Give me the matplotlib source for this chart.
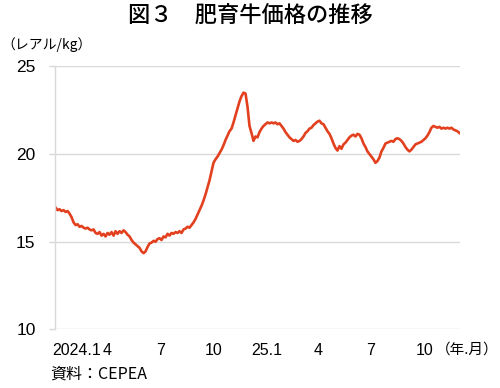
import matplotlib
matplotlib.use("Agg")
import matplotlib.pyplot as plt
import matplotlib.transforms as mtransforms
import pandas as pd

plt.rcParams['font.family'] = ['Liberation Sans', 'Noto Sans CJK JP', 'DejaVu Sans']
cjk = ['Noto Sans CJK JP', 'DejaVu Sans']
latin_first = ['Liberation Sans', 'Noto Sans CJK JP', 'DejaVu Sans']

title = "図３　肥育牛価格の推移"
unit_label = "（レアル/kg）"
xunit_label = "（年.月）"
source = "資料：CEPEA"

start_date = "2024-01-02"
end_date = "2025-12-01"

prices = [
    16.95, 16.8, 16.85, 16.75, 16.8, 16.7, 16.75, 16.6, 16.4, 16.1,
    15.95, 16.0, 15.85, 15.9, 15.8, 15.75, 15.8, 15.7, 15.65, 15.7,
    15.5, 15.45, 15.55, 15.35, 15.45, 15.3, 15.5, 15.4, 15.55, 15.35,
    15.6, 15.45, 15.6, 15.5, 15.65, 15.55, 15.4, 15.3, 15.1, 14.95,
    14.85, 14.75, 14.65, 14.45, 14.35, 14.45, 14.7, 14.9, 14.95, 15.05,
    15.0, 15.15, 15.2, 15.1, 15.3, 15.25, 15.45, 15.35, 15.5, 15.45,
    15.55, 15.5, 15.6, 15.5, 15.7, 15.75, 15.85, 15.8, 15.95, 16.1,
    16.3, 16.55, 16.8, 17.05, 17.35, 17.7, 18.1, 18.5, 19.0, 19.5,
    19.7, 19.85, 20.05, 20.25, 20.5, 20.8, 21.05, 21.3, 21.45, 21.8,
    22.2, 22.6, 23.0, 23.3, 23.5, 23.45, 22.7, 21.6, 21.2, 20.75,
    21.0, 20.95, 21.25, 21.45, 21.6, 21.7, 21.8, 21.75, 21.8, 21.75,
    21.8, 21.7, 21.75, 21.6, 21.45, 21.25, 21.1, 20.95, 20.85, 20.75,
    20.8, 20.7, 20.75, 20.85, 21.0, 21.2, 21.3, 21.45, 21.5, 21.65,
    21.75, 21.85, 21.9, 21.75, 21.7, 21.5, 21.3, 21.15, 20.9, 20.6,
    20.35, 20.2, 20.45, 20.3, 20.55, 20.65, 20.8, 20.95, 21.05, 21.1,
    21.0, 21.15, 21.1, 20.9, 20.6, 20.4, 20.15, 20.0, 19.85, 19.7,
    19.5, 19.6, 19.8, 20.15, 20.35, 20.6, 20.65, 20.7, 20.75, 20.7,
    20.85, 20.9, 20.85, 20.75, 20.6, 20.4, 20.25, 20.15, 20.25, 20.4,
    20.55, 20.6, 20.65, 20.7, 20.8, 20.9, 21.05, 21.25, 21.5, 21.6,
    21.55, 21.5, 21.55, 21.45, 21.5, 21.45, 21.5, 21.45, 21.5, 21.4,
    21.35, 21.3, 21.2,
]

tick_dates = ["2024-01-01", "2024-04-01", "2024-07-01", "2024-10-01",
              "2025-01-01", "2025-04-01", "2025-07-01", "2025-10-01"]
tick_labels = ["2024.1", "4", "7", "10", "25.1", "4", "7", "10"]

y_ticks = [10, 15, 20, 25]

dates = pd.date_range(start_date, end_date, periods=len(prices))

fig = plt.figure(figsize=(5.0, 3.88), dpi=100)
ax = fig.add_axes([0.11, 0.151, 0.81, 0.678])

grid_color = "#d9d9d9"
ax.plot(dates, prices, color="#E2401E", linewidth=1.9, solid_joinstyle="round")

ax.set_ylim(10, 25)
ax.set_yticks(y_ticks)
ax.set_xlim(pd.Timestamp("2024-01-01"), pd.Timestamp("2025-12-02"))
ax.set_xticks(pd.to_datetime(tick_dates))
ax.set_xticklabels(tick_labels)

ax.grid(axis="y", color=grid_color, linewidth=1.0)
ax.set_axisbelow(True)
for s in ["top", "right", "bottom"]:
    ax.spines[s].set_visible(False)
ax.spines["left"].set_color(grid_color)
ax.spines["left"].set_linewidth(1.0)

ax.tick_params(axis="y", length=4, color=grid_color, width=1.0, pad=10,
               labelsize=12.5, labelcolor="#000000")
ax.tick_params(axis="x", length=0, pad=10, labelsize=11.5, labelcolor="#000000")
for lab in ax.get_xticklabels() + ax.get_yticklabels():
    lab.set_family(latin_first)

first = ax.get_xticklabels()[0]
first.set_horizontalalignment("left")
first.set_transform(first.get_transform() +
                    mtransforms.ScaledTranslation(-3 / 100, 0, fig.dpi_scale_trans))

fig.text(0.5, 0.962, title, ha="center", va="center", fontsize=16,
         family=cjk, fontweight="medium")
fig.text(0.003, 0.885, unit_label, ha="left", va="center", fontsize=10,
         family=cjk)
fig.text(0.997, 0.098, xunit_label, ha="right", va="center", fontsize=10.5,
         family=cjk)
fig.text(0.1, 0.036, source, ha="left", va="center", fontsize=11.5,
         family=['Noto Sans CJK JP', 'Liberation Sans', 'DejaVu Sans'])

fig.savefig("out.png", dpi=100, facecolor="white")
